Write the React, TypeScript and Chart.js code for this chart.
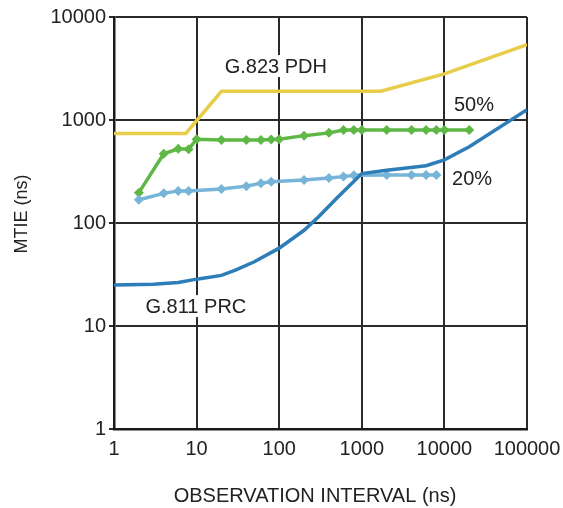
import React, { useEffect, useRef } from "react";
import { Chart, registerables } from "chart.js";

Chart.register(...registerables);

// Axis tick values (decades)
const xTickValues = [1, 10, 100, 1000, 10000, 100000];
const yTickValues = [1, 10, 100, 1000, 10000];

// G.823 PDH mask (yellow)
const g823X = [1, 7.4, 20, 1700, 10000, 100000];
const g823Y = [740, 740, 1900, 1900, 2800, 5400];

// G.811 PRC mask (dark blue)
const g811X = [1, 3, 6, 10, 20, 30, 50, 100, 200, 300, 500, 1000, 2000, 6000, 10000, 20000, 100000];
const g811Y = [25, 25.5, 26.5, 28.5, 31, 35, 42, 57, 85, 115, 175, 302, 325, 360, 410, 550, 1260];

// 50% load measurement (green)
const p50X = [2, 4, 6, 8, 10, 20, 40, 60, 80, 100, 200, 400, 600, 800, 1000, 2000, 4000, 6000, 8000, 10000, 20000];
const p50Y = [197, 470, 525, 520, 650, 640, 640, 640, 645, 650, 705, 750, 800, 800, 800, 800, 800, 800, 800, 800, 800];

// 20% load measurement (light blue)
const p20X = [2, 4, 6, 8, 20, 40, 60, 80, 200, 400, 600, 800, 2000, 4000, 6000, 8000];
const p20Y = [168, 194, 205, 205, 214, 228, 243, 252, 262, 273, 282, 290, 292, 292, 292, 292];

// In-plot text labels (data coordinates)
const labelTexts = ["G.823 PDH", "50%", "20%", "G.811 PRC"];
const labelX = [91, 22800, 21600, 9.8];
const labelY = [3340, 1400, 270, 15.6];

const xTitle = "OBSERVATION INTERVAL (ns)";
const yTitle = "MTIE (ns)";

const FONT = '"Liberation Sans", Arial, Helvetica, sans-serif';
const TEXT = "#222222";

const toPoints = (xs: number[], ys: number[]) => xs.map((x, i) => ({ x, y: ys[i] }));

const textPlugin = {
  id: "textPlugin",
  afterDatasetsDraw(chart: any) {
    const { ctx, scales } = chart;
    const xs = scales.x;
    const ys = scales.y;
    ctx.save();
    ctx.font = `20px ${FONT}`;
    ctx.textAlign = "center";
    ctx.textBaseline = "middle";
    labelTexts.forEach((t, i) => {
      const px = xs.getPixelForValue(labelX[i]);
      const py = ys.getPixelForValue(labelY[i]);
      const w = ctx.measureText(t).width;
      ctx.fillStyle = "#ffffff";
      ctx.fillRect(px - w / 2 - 3, py - 11, w + 6, 22);
      ctx.fillStyle = TEXT;
      ctx.fillText(t, px, py + 1);
    });
    // axis titles
    ctx.fillStyle = TEXT;
    ctx.font = `20px ${FONT}`;
    ctx.fillText(xTitle, 315, 496);
    ctx.save();
    ctx.translate(22, 214);
    ctx.rotate(-Math.PI / 2);
    ctx.font = `18px ${FONT}`;
    ctx.fillText(yTitle, 0, 0);
    ctx.restore();
    ctx.restore();
  },
};

export default function App() {
  const canvasRef = useRef<HTMLCanvasElement | null>(null);

  useEffect(() => {
    if (!canvasRef.current) return;
    const chart = new Chart(canvasRef.current, {
      type: "line",
      data: {
        datasets: [
          {
            label: "G.811 PRC",
            data: toPoints(g811X, g811Y),
            borderColor: "#2D7DB9",
            backgroundColor: "#2D7DB9",
            borderWidth: 3.5,
            pointRadius: 0,
            tension: 0,
            order: 1,
          },
          {
            label: "20%",
            data: toPoints(p20X, p20Y),
            borderColor: "#76B4D8",
            backgroundColor: "#76B4D8",
            borderWidth: 3.5,
            pointStyle: "rectRot",
            pointRadius: 5,
            pointBorderWidth: 0,
            order: 2,
          },
          {
            label: "50%",
            data: toPoints(p50X, p50Y),
            borderColor: "#5FB746",
            backgroundColor: "#5FB746",
            borderWidth: 3.5,
            pointStyle: "rectRot",
            pointRadius: 5,
            pointBorderWidth: 0,
            order: 3,
          },
          {
            label: "G.823 PDH",
            data: toPoints(g823X, g823Y),
            borderColor: "#E8CD4A",
            backgroundColor: "#E8CD4A",
            borderWidth: 3.5,
            pointRadius: 0,
            order: 4,
          },
        ],
      },
      options: {
        animation: false,
        responsive: true,
        maintainAspectRatio: false,
        layout: { padding: { top: 17, right: 36, left: 0, bottom: 0 } },
        plugins: {
          legend: { display: false },
          tooltip: { enabled: false },
        },
        scales: {
          x: {
            type: "logarithmic",
            min: 1,
            max: 100000,
            afterBuildTicks: (s: any) => {
              s.ticks = xTickValues.map((v) => ({ value: v }));
            },
            afterFit: (s: any) => {
              s.height = 79;
              s.paddingLeft = 0;
              s.paddingRight = 0;
            },
            ticks: {
              autoSkip: false,
              maxRotation: 0,
              padding: 8,
              color: TEXT,
              font: { family: FONT, size: 20 },
              callback: (v: any) => String(v),
            },
            grid: { color: "#2a2a2a", lineWidth: 2, drawTicks: false },
            border: { color: "#1a1a1a", width: 2.5 },
          },
          y: {
            type: "logarithmic",
            min: 1,
            max: 10000,
            afterBuildTicks: (s: any) => {
              s.ticks = yTickValues.map((v) => ({ value: v }));
            },
            afterFit: (s: any) => {
              s.width = 114;
              s.paddingTop = 0;
              s.paddingBottom = 0;
            },
            ticks: {
              autoSkip: false,
              padding: 3,
              color: TEXT,
              font: { family: FONT, size: 20 },
              callback: (v: any) => String(v),
            },
            grid: { color: "#2a2a2a", lineWidth: 2, drawTicks: true, tickLength: 5 },
            border: { color: "#1a1a1a", width: 2.5 },
          },
        },
      },
      plugins: [textPlugin],
    });
    return () => chart.destroy();
  }, []);

  return (
    <div style={{ position: "fixed", left: 0, top: 0, width: 563, height: 508, background: "#fff" }}>
      <canvas ref={canvasRef} />
    </div>
  );
}
